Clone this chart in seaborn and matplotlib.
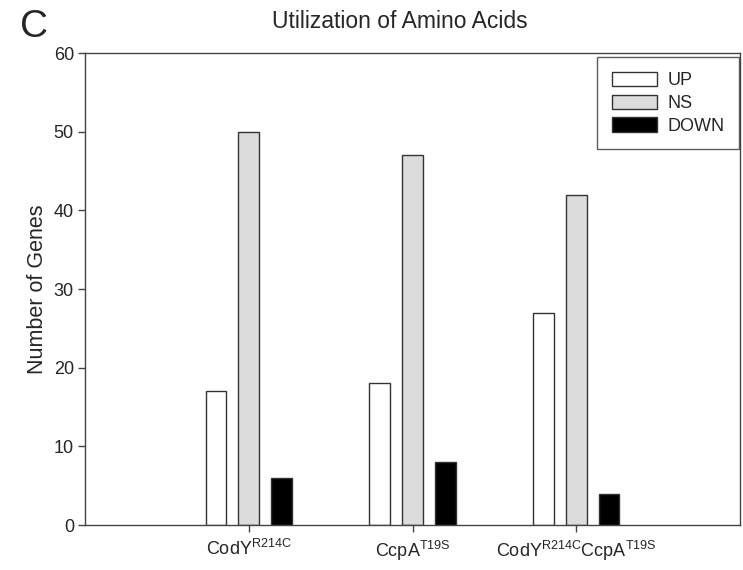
import matplotlib
matplotlib.use("Agg")
import matplotlib.pyplot as plt
import seaborn as sns
import pandas as pd

categories = [r"CodY$^{\mathrm{R214C}}$", r"CcpA$^{\mathrm{T19S}}$", r"CodY$^{\mathrm{R214C}}$CcpA$^{\mathrm{T19S}}$"]
groups = ["UP", "NS", "DOWN"]
up_vals = [17, 18, 27]
ns_vals = [50, 47, 42]
down_vals = [6, 8, 4]
colors = ["#ffffff", "#dcdcdc", "#000000"]

rows = []
for i, c in enumerate(categories):
    rows.append((c, "UP", up_vals[i]))
    rows.append((c, "NS", ns_vals[i]))
    rows.append((c, "DOWN", down_vals[i]))
df = pd.DataFrame(rows, columns=["cat", "grp", "val"])

sns.set_style("ticks")
plt.rcParams["font.family"] = ["Liberation Sans", "DejaVu Sans"]
plt.rcParams["mathtext.fontset"] = "custom"
plt.rcParams["mathtext.rm"] = "Liberation Sans"
plt.rcParams["mathtext.it"] = "Liberation Sans:italic"
plt.rcParams["mathtext.bf"] = "Liberation Sans:bold"

fig = plt.figure(figsize=(7.43, 5.70), dpi=100)
ax = fig.add_axes([85/743, 1-525/570, (740-85)/743, (525-53)/570])

sns.barplot(data=df, x="cat", y="val", hue="grp", hue_order=groups, order=categories,
            palette=colors, width=0.6, gap=0.36, edgecolor="#333333", linewidth=1.0,
            ax=ax, legend=True)

ax.set_xlim(-1, 3)
ax.set_ylim(0, 60)
ax.set_yticks(range(0, 61, 10))
ax.set_xlabel("")
ax.set_ylabel("Number of Genes", fontsize=15.5, labelpad=4)
ax.tick_params(axis="y", direction="out", length=5, width=1, color="#444444", labelsize=13, left=True, pad=3)
ax.tick_params(axis="x", direction="out", length=5, width=1, color="#444444", labelsize=13, bottom=True, pad=5)
for s in ax.spines.values():
    s.set_visible(True)
    s.set_color("#444444")
    s.set_linewidth(1.0)

leg = ax.legend(loc="upper right", bbox_to_anchor=(0.999, 0.991), borderaxespad=0.0,
                frameon=True, fancybox=False,
                edgecolor="#333333", fontsize=13, handlelength=2.5, handleheight=0.85,
                borderpad=0.8, labelspacing=0.3, handletextpad=0.6)
leg.get_frame().set_linewidth(1.0)

fig.text(400/743, 1-22/570, "Utilization of Amino Acids", ha="center", va="center", fontsize=16.5)
fig.text(20/743, 1-27/570, "C", ha="left", va="center", fontsize=28)

fig.savefig("out.png", dpi=100)
